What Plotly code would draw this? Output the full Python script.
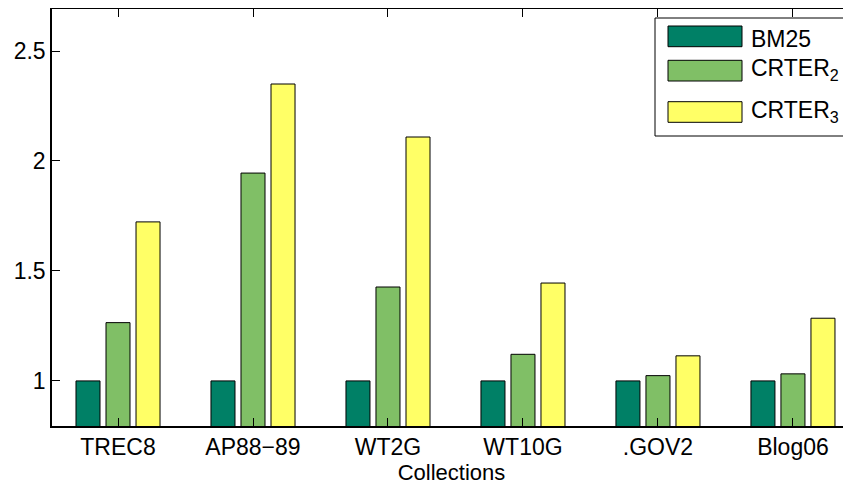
import plotly.graph_objects as go

categories = ["TREC8", "AP88\u221289", "WT2G", "WT10G", ".GOV2", "Blog06"]
bm25 = [1.0, 1.0, 1.0, 1.0, 1.0, 1.0]
crter2 = [1.265, 1.945, 1.427, 1.121, 1.024, 1.032]
crter3 = [1.723, 2.350, 2.109, 1.445, 1.114, 1.285]
series_names = ["BM25", "CRTER<sub>2</sub>", "CRTER<sub>3</sub>"]
colors = ["#008066", "#80BF66", "#FFFF66"]
y_ticks = [1, 1.5, 2, 2.5]

# the page body adds an 8px offset; size the figure so the visible frame matches
OFF = 8
W, H = 851 - OFF, 485 - OFF
L, T, B = 52 - OFF, 9 - OFF, 59
FONT = "Liberation Sans, Arial, Helvetica, sans-serif"

fig = go.Figure()
for name, vals, col in zip(series_names, [bm25, crter2, crter3], colors):
    fig.add_trace(go.Bar(
        x=categories, y=vals, name=name,
        marker=dict(color=col, line=dict(color="black", width=1)),
        showlegend=False,
    ))

fig.update_layout(
    width=W, height=H,
    margin=dict(l=L, r=0, t=T, b=B, autoexpand=False),
    paper_bgcolor="white", plot_bgcolor="white",
    barmode="group", bargap=0.333, bargroupgap=0.2,
    font=dict(family=FONT, size=23, color="black"),
    xaxis=dict(
        type="category", range=[-0.489, 5.43], automargin=False,
        showline=True, linecolor="black", linewidth=1.5,
        mirror="ticks", ticks="inside", ticklen=8, tickcolor="black", tickwidth=1,
        showgrid=False, zeroline=False,
        tickfont=dict(size=23),
        title=dict(text="Collections", font=dict(size=22), standoff=2),
    ),
    yaxis=dict(
        range=[0.795, 2.691], tickvals=y_ticks, automargin=False,
        ticktext=[("%g" % v) for v in y_ticks],
        showline=True, linecolor="black", linewidth=1.5,
        ticks="inside", ticklen=8, tickcolor="black", tickwidth=1,
        showgrid=False, zeroline=False,
        tickfont=dict(size=23),
    ),
)

# custom legend (MATLAB-style box) in paper coordinates; inputs are page pixels
pw, ph = W - L, H - T - B
def px(x):
    return (x - OFF - L) / pw
def py(y):
    return (H - B - (y - OFF)) / ph

fig.add_shape(type="rect", xref="paper", yref="paper",
              x0=px(655), x1=px(850), y0=py(136), y1=py(18),
              line=dict(color="black", width=1), fillcolor="white", layer="above")
sw = [(26, 46.7), (60.3, 81), (101.7, 122.3)]
text_y = [39, 70, 111]
for (y0, y1), col, name, ty in zip(sw, colors, series_names, text_y):
    fig.add_shape(type="rect", xref="paper", yref="paper",
                  x0=px(668), x1=px(742), y0=py(y1), y1=py(y0),
                  line=dict(color="black", width=1), fillcolor=col, layer="above")
    fig.add_annotation(xref="paper", yref="paper", x=px(749), y=py(ty),
                       xanchor="left", yanchor="middle", text=name,
                       showarrow=False, font=dict(size=23, family=FONT, color="black"))

fig.write_html("out.html")
